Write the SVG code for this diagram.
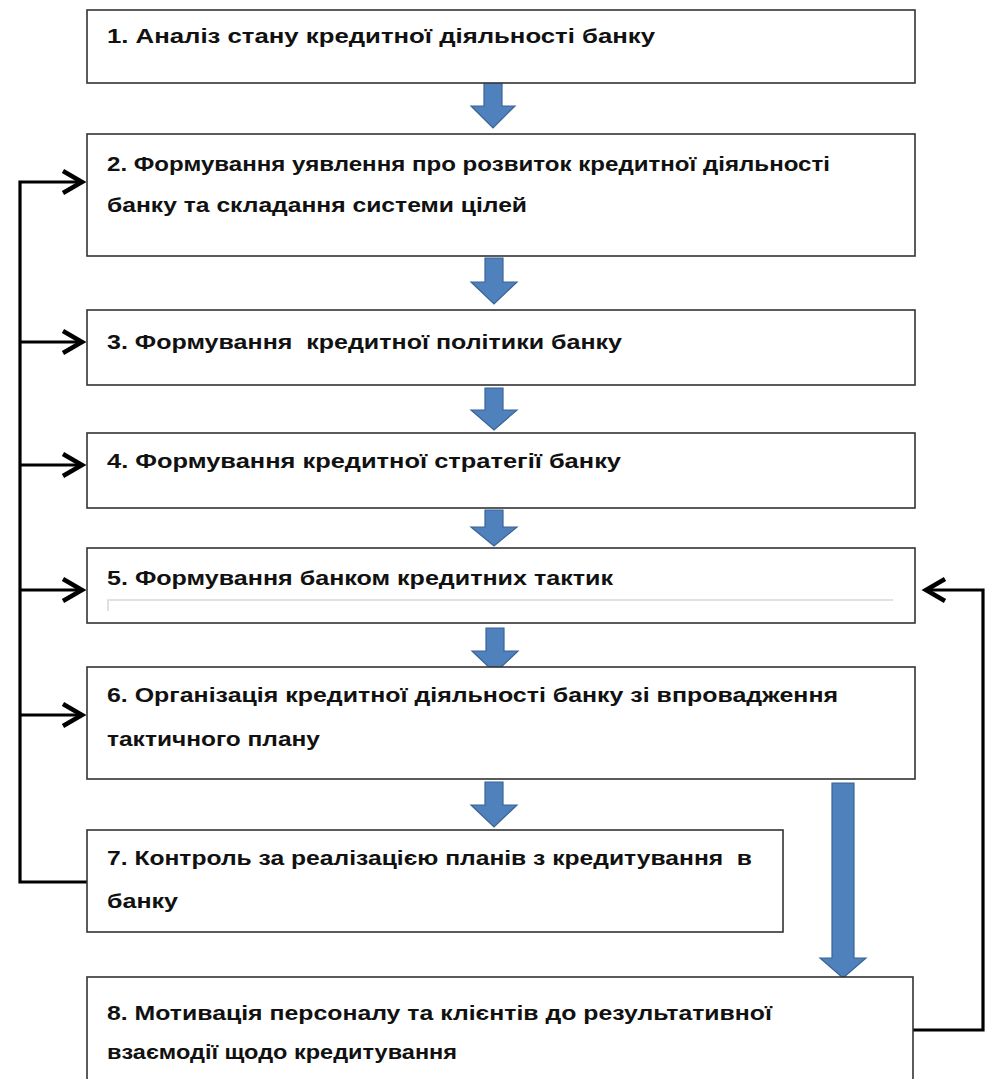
<svg xmlns="http://www.w3.org/2000/svg" width="986" height="1079" viewBox="0 0 986 1079">
<style>
.box{fill:#fff;stroke:#333;stroke-width:1.6}
.t{font-family:"Liberation Sans",Arial,sans-serif;font-weight:bold;font-size:20px;fill:#111;white-space:pre}
.blk{fill:#4F81BD;stroke:#3A6494;stroke-width:1.2}
.con{fill:none;stroke:#000;stroke-width:3.2}
</style>
<defs>
<marker id="ah" markerUnits="userSpaceOnUse" markerWidth="30" markerHeight="32" refX="24" refY="14" orient="auto">
<path d="M4,3 L23,14 L4,25" fill="none" stroke="#000" stroke-width="4.5"/>
</marker>
</defs>
<rect width="986" height="1079" fill="#fff"/>
<g id="connectors">
<path class="con" d="M87,882 H20 V182 H83" marker-end="url(#ah)"/>
<path class="con" d="M20,342 H83" marker-end="url(#ah)"/>
<path class="con" d="M20,465 H83" marker-end="url(#ah)"/>
<path class="con" d="M20,590 H83" marker-end="url(#ah)"/>
<path class="con" d="M20,715 H83" marker-end="url(#ah)"/>
<path class="con" d="M913,1030 H983 V590 H925" marker-end="url(#ah)"/>
<path class="blk" d="M484,82 H502 V106 H515 L493,128 L471,106 H484 Z"/>
<path class="blk" d="M485,258 H503 V282 H517 L494,304 L471,282 H485 Z"/>
<path class="blk" d="M485,388 H503 V410 H517 L494,430 L471,410 H485 Z"/>
<path class="blk" d="M485,510 H503 V527 H517 L494,546 L471,527 H485 Z"/>
<path class="blk" d="M486,628 H504 V651 H518 L495,673 L472,651 H486 Z"/>
<path class="blk" d="M485,782 H503 V805 H517 L494,827 L471,805 H485 Z"/>
<path class="blk" d="M832,783 H854 V958 H866 L843,978 L820,958 H832 Z"/>
</g>
<g id="n1">
<rect class="box" x="87" y="10" width="828" height="73"/>
<text class="t" x="107" y="43" textLength="548" lengthAdjust="spacingAndGlyphs">1. Аналіз стану кредитної діяльності банку</text>
</g>
<g id="n2">
<rect class="box" x="87" y="134" width="828" height="122"/>
<text class="t" x="107" y="171" textLength="723" lengthAdjust="spacingAndGlyphs">2. Формування уявлення про розвиток кредитної діяльності</text>
<text class="t" x="107" y="212" textLength="420" lengthAdjust="spacingAndGlyphs">банку та складання системи цілей</text>
</g>
<g id="n3">
<rect class="box" x="87" y="310" width="828" height="75"/>
<text class="t" x="107" y="349" textLength="515" lengthAdjust="spacingAndGlyphs">3. Формування  кредитної політики банку</text>
</g>
<g id="n4">
<rect class="box" x="87" y="433" width="828" height="75"/>
<text class="t" x="107" y="468" textLength="514" lengthAdjust="spacingAndGlyphs">4. Формування кредитної стратегії банку</text>
</g>
<g id="n5">
<rect class="box" x="87" y="548" width="828" height="75"/>
<text class="t" x="107" y="585" textLength="506" lengthAdjust="spacingAndGlyphs">5. Формування банком кредитних тактик</text>
<path d="M108,611 V600 H893" fill="none" stroke="#d8d8d8" stroke-width="1.5"/>
</g>
<g id="n6">
<rect class="box" x="87" y="667" width="828" height="112"/>
<text class="t" x="107" y="702" textLength="731" lengthAdjust="spacingAndGlyphs">6. Організація кредитної діяльності банку зі впровадження</text>
<text class="t" x="107" y="746" textLength="213" lengthAdjust="spacingAndGlyphs">тактичного плану</text>
</g>
<g id="n7">
<rect class="box" x="87" y="830" width="696" height="102"/>
<text class="t" x="107" y="865" textLength="645" lengthAdjust="spacingAndGlyphs">7. Контроль за реалізацією планів з кредитування  в</text>
<text class="t" x="107" y="908" textLength="71" lengthAdjust="spacingAndGlyphs">банку</text>
</g>
<g id="n8">
<rect class="box" x="87" y="977" width="826" height="120"/>
<text class="t" x="107" y="1020" textLength="665" lengthAdjust="spacingAndGlyphs">8. Мотивація персоналу та клієнтів до результативної</text>
<text class="t" x="107" y="1059" textLength="350" lengthAdjust="spacingAndGlyphs">взаємодії щодо кредитування</text>
</g>
</svg>
